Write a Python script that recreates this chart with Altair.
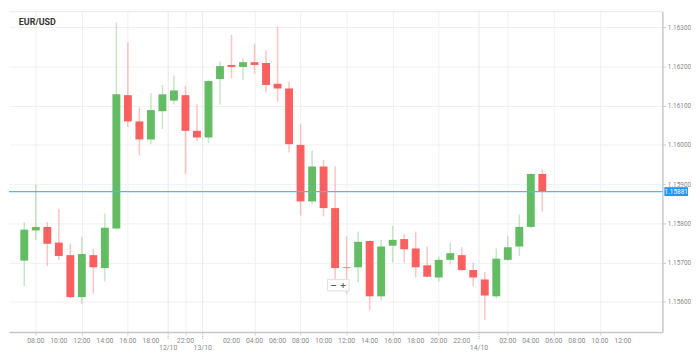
import altair as alt
import pandas as pd

# ---------------- data ----------------
opens  = [1.15705, 1.15782, 1.15791, 1.15751, 1.15719, 1.15612, 1.15719, 1.15686, 1.15787, 1.16127,
          1.16060, 1.16014, 1.16086, 1.16113, 1.16127, 1.16036, 1.16019, 1.16168, 1.16204, 1.16199,
          1.16211, 1.16209, 1.16156, 1.16144, 1.16000, 1.15856, 1.15945, 1.15839, 1.15688, 1.15688,
          1.15755, 1.15614, 1.15743, 1.15760, 1.15736, 1.15693, 1.15662, 1.15707, 1.15719, 1.15681,
          1.15657, 1.15614, 1.15707, 1.15741, 1.15791, 1.15926]
highs  = [1.15803, 1.15899, 1.15803, 1.15837, 1.15748, 1.15765, 1.15736, 1.15825, 1.16312, 1.16261,
          1.16096, 1.16132, 1.16153, 1.16177, 1.16151, 1.16103, 1.16165, 1.16213, 1.16281, 1.16221,
          1.16257, 1.16242, 1.16302, 1.16161, 1.16053, 1.15986, 1.15962, 1.15945, 1.15767, 1.15779,
          1.15757, 1.15758, 1.15794, 1.15772, 1.15779, 1.15741, 1.15715, 1.15751, 1.15739, 1.15700,
          1.15676, 1.15736, 1.15767, 1.15823, 1.15928, 1.15938]
lows   = [1.15640, 1.15758, 1.15691, 1.15707, 1.15610, 1.15595, 1.15621, 1.15652, 1.15785, 1.16046,
          1.15974, 1.16002, 1.16041, 1.16103, 1.15926, 1.16010, 1.16005, 1.16103, 1.16170, 1.16165,
          1.16182, 1.16134, 1.16110, 1.15981, 1.15820, 1.15849, 1.15818, 1.15657, 1.15621, 1.15650,
          1.15578, 1.15604, 1.15700, 1.15700, 1.15662, 1.15662, 1.15652, 1.15695, 1.15679, 1.15640,
          1.15554, 1.15609, 1.15705, 1.15717, 1.15787, 1.15830]
closes = [1.15784, 1.15791, 1.15748, 1.15717, 1.15612, 1.15722, 1.15688, 1.15789, 1.16129, 1.16060,
          1.16014, 1.16089, 1.16129, 1.16139, 1.16036, 1.16019, 1.16163, 1.16201, 1.16199, 1.16211,
          1.16204, 1.16153, 1.16144, 1.16002, 1.15856, 1.15945, 1.15839, 1.15686, 1.15686, 1.15753,
          1.15614, 1.15741, 1.15758, 1.15734, 1.15688, 1.15664, 1.15707, 1.15724, 1.15681, 1.15662,
          1.15616, 1.15710, 1.15739, 1.15791, 1.15926, 1.15880]

hour_pos    = [1, 3, 5, 7, 9, 11, 14, 18, 20, 22, 24, 26, 28, 30, 32, 34, 36, 38, 42, 44, 46, 48, 50, 52]
hour_labels = ["08:00", "10:00", "12:00", "14:00", "16:00", "18:00", "22:00", "02:00", "04:00",
               "06:00", "08:00", "10:00", "12:00", "14:00", "16:00", "18:00", "20:00", "22:00",
               "02:00", "04:00", "06:00", "08:00", "10:00", "12:00"]
date_pos    = [12.5, 15.5, 39.5]
date_labels = ["12/10", "13/10", "14/10"]
price_ticks = [1.156, 1.157, 1.158, 1.159, 1.160, 1.161, 1.162, 1.163]
current_price = 1.15881
title_text = "EUR/USD"
zoom_text = "−   +"

# ---------------- chart ----------------
W, H = 662, 325
GREEN, RED = "#5cb85c", "#f95757"

df = pd.DataFrame({"i": list(range(len(opens))), "open": opens, "high": highs,
                   "low": lows, "close": closes})
df["dir"] = ["up" if c >= o else "down" for o, c in zip(opens, closes)]

x_scale = alt.Scale(domain=[-0.9, 55.0], nice=False, zero=False)
y_scale = alt.Scale(domain=[1.15523, 1.16341], nice=False, zero=False)
col_scale = alt.Scale(domain=["up", "down"], range=[GREEN, RED])

x_axis = alt.Axis(values=hour_pos, labels=False, title=None, grid=True,
                  gridColor="#f1f1f1", gridWidth=1, tickSize=3, tickColor="#d0d0d0",
                  domainColor="#c8c8c8", domainWidth=1.5)
y_axis = alt.Axis(orient="right", values=price_ticks, format=".5f", title=None, grid=True,
                  gridColor="#f1f1f1", gridWidth=1, tickSize=3, tickColor="#c8c8c8",
                  domainColor="#c8c8c8", domainWidth=1.5, labelFontSize=6.5, labelColor="#8a8a8a",
                  labelFont="Roboto", labelPadding=2, labelOverlap=False)

base = alt.Chart(df)

wicks = base.mark_rule(strokeWidth=1.5, opacity=0.35).encode(
    x=alt.X("i:Q", scale=x_scale, axis=x_axis),
    y=alt.Y("low:Q", scale=y_scale, axis=y_axis),
    y2="high:Q",
    color=alt.Color("dir:N", scale=col_scale, legend=None),
)

bodies = base.mark_bar(width=8, opacity=0.95).encode(
    x=alt.X("i:Q", title=None),
    y=alt.Y("open:Q", title=None),
    y2="close:Q",
    color=alt.Color("dir:N", scale=col_scale, legend=None),
)

hours_df = pd.DataFrame({"pos": hour_pos, "label": hour_labels})
hour_text = alt.Chart(hours_df).mark_text(fontSize=7, color="#8a8a8a", font="Roboto", baseline="top").encode(
    x=alt.X("pos:Q", title=None), y=alt.value(H + 5), text="label:N")

dates_df = pd.DataFrame({"pos": date_pos, "label": date_labels})
date_grid = alt.Chart(dates_df).mark_rule(color="#e9e9e9", strokeWidth=1).encode(
    x=alt.X("pos:Q", title=None))
date_ticks = alt.Chart(dates_df).mark_rule(color="#aaaaaa", strokeWidth=1, strokeDash=[1, 1]).encode(
    x=alt.X("pos:Q", title=None), y=alt.value(H), y2=alt.value(H + 8))
date_text = alt.Chart(dates_df).mark_text(fontSize=7, color="#8a8a8a", font="Roboto", baseline="top").encode(
    x=alt.X("pos:Q", title=None), y=alt.value(H + 12), text="label:N")

price_df = pd.DataFrame({"p": [current_price]})
price_line = alt.Chart(price_df).mark_rule(color="#4db8ff", strokeWidth=1.2).encode(
    y=alt.Y("p:Q", title=None))
price_box = alt.Chart(price_df).mark_tick(orient="horizontal", size=24, thickness=9,
                                          color="#2196f3", opacity=1).encode(
    x=alt.value(W + 14), y=alt.Y("p:Q", title=None))
price_lbl = alt.Chart(price_df).mark_text(fontSize=6.5, color="white", font="Roboto").encode(
    x=alt.value(W + 14), y=alt.Y("p:Q", title=None),
    text=alt.Text("p:Q", format=".5f"))

top_line = alt.Chart(pd.DataFrame({"a": [0]})).mark_rule(color="#e8e8e8", strokeWidth=1).encode(
    x=alt.value(0), x2=alt.value(W), y=alt.value(0.5))

title = alt.Chart(pd.DataFrame({"t": [title_text]})).mark_text(
    fontSize=9, fontWeight="bold", color="#333333", font="Roboto", align="left").encode(
    x=alt.value(10), y=alt.value(11), text="t:N")

zx = W * 0.504
zoom_box = alt.Chart(pd.DataFrame({"t": [zoom_text]})).mark_rect(
    fill="white", stroke="#e0e0e0", strokeWidth=1).encode(
    x=alt.value(zx - 11), x2=alt.value(zx + 11), y=alt.value(H * 0.836), y2=alt.value(H * 0.872))
zoom_lbl = alt.Chart(pd.DataFrame({"t": [zoom_text]})).mark_text(
    fontSize=8, color="#555555", font="DejaVu Sans", fontWeight="bold").encode(
    x=alt.value(zx), y=alt.value(H * 0.856), text="t:N")

chart = alt.layer(
    wicks, date_grid, top_line, bodies, price_line, price_box, price_lbl,
    hour_text, date_ticks, date_text, title, zoom_box, zoom_lbl,
).properties(width=W, height=H, padding=0, background="white").configure_view(stroke=None)

chart.save("out.html", embed_options={"renderer": "svg", "actions": False})
